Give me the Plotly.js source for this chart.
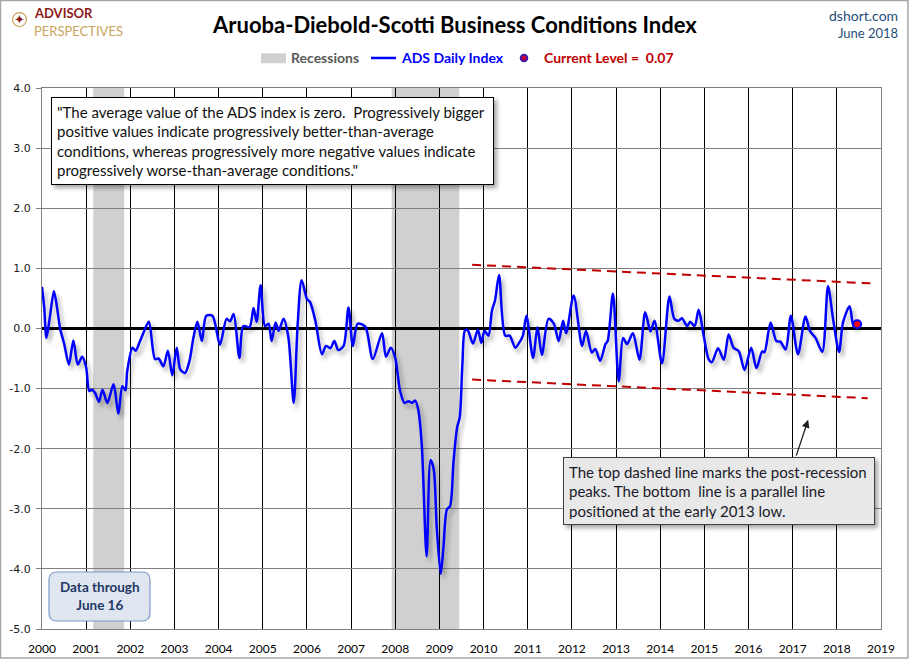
<!DOCTYPE html>
<html>
<head>
<meta charset="utf-8">
<script src="https://cdn.plot.ly/plotly-3.0.1.min.js"></script>
<style>
  body { margin: 0; background: #fff; }
  #myDiv { width: 909px; height: 660px; }
</style>
</head>
<body>
<div id="myDiv"></div>
<script>
// ADS daily index (decimal years)
let years = [
  2000.00, 2000.05, 2000.10, 2000.18, 2000.27, 2000.34, 2000.41, 2000.50, 2000.61, 2000.71,
  2000.81, 2000.91, 2001.00, 2001.07, 2001.13, 2001.20, 2001.29, 2001.37, 2001.48, 2001.62,
  2001.73, 2001.82, 2001.89, 2001.93, 2002.05, 2002.12, 2002.22, 2002.31, 2002.42, 2002.56,
  2002.64, 2002.75, 2002.85, 2002.95, 2003.05, 2003.13, 2003.24, 2003.34, 2003.43, 2003.52,
  2003.62, 2003.72, 2003.86, 2004.03, 2004.18, 2004.26, 2004.34, 2004.47, 2004.56, 2004.70,
  2004.79, 2004.86, 2004.95, 2005.05, 2005.13, 2005.20, 2005.29, 2005.36, 2005.47, 2005.58,
  2005.70, 2005.79, 2005.88, 2006.00, 2006.07, 2006.19, 2006.34, 2006.43, 2006.53, 2006.62,
  2006.71, 2006.83, 2006.94, 2007.04, 2007.15, 2007.32, 2007.49, 2007.70, 2007.79, 2007.90,
  2008.00, 2008.11, 2008.21, 2008.30, 2008.38, 2008.45, 2008.52, 2008.60, 2008.71, 2008.80,
  2008.87, 2008.94, 2009.03, 2009.09, 2009.17, 2009.24, 2009.32, 2009.40, 2009.46, 2009.52,
  2009.58, 2009.64, 2009.76, 2009.87, 2009.95, 2010.02, 2010.11, 2010.19, 2010.26, 2010.35,
  2010.49, 2010.59, 2010.72, 2010.83, 2010.89, 2010.97, 2011.12, 2011.22, 2011.32, 2011.47,
  2011.59, 2011.70, 2011.80, 2011.87, 2012.04, 2012.23, 2012.32, 2012.45, 2012.53, 2012.64,
  2012.76, 2012.81, 2012.93, 2013.06, 2013.16, 2013.25, 2013.38, 2013.53, 2013.66, 2013.78,
  2013.87, 2014.04, 2014.21, 2014.32, 2014.42, 2014.49, 2014.61, 2014.68, 2014.78, 2014.87,
  2014.98, 2015.10, 2015.17, 2015.31, 2015.44, 2015.55, 2015.66, 2015.78, 2015.91, 2016.06,
  2016.18, 2016.31, 2016.36, 2016.50, 2016.63, 2016.72, 2016.84, 2016.96, 2017.12, 2017.29,
  2017.39, 2017.52, 2017.67, 2017.80, 2017.92, 2018.05, 2018.14, 2018.29, 2018.38, 2018.46
];
let adsValues = [
  0.69, 0.35, -0.16, 0.20, 0.62, 0.35, 0.00, -0.25, -0.60, -0.20,
  -0.60, -0.47, -0.65, -1.04, -1.02, -1.07, -1.22, -1.02, -1.24, -0.93,
  -1.42, -0.96, -1.03, -0.71, -0.32, -0.37, -0.21, -0.05, 0.11, -0.51,
  -0.50, -0.63, -0.37, -0.78, -0.32, -0.68, -0.74, -0.54, -0.15, 0.11,
  -0.21, 0.21, 0.21, -0.27, 0.16, 0.12, 0.24, -0.49, 0.04, 0.02,
  0.34, 0.11, 0.72, 0.04, 0.08, -0.21, 0.10, -0.04, 0.16, -0.15,
  -1.24, 0.07, 0.80, 0.49, 0.44, 0.13, -0.43, -0.29, -0.33, -0.21,
  -0.36, -0.29, 0.35, -0.29, 0.08, 0.03, -0.51, -0.08, -0.47, -0.32,
  -0.49, -1.04, -1.24, -1.21, -1.24, -1.20, -1.35, -1.93, -3.79, -2.19,
  -2.34, -3.32, -4.08, -3.65, -3.01, -2.96, -2.21, -1.65, -1.48, -0.60,
  -0.03, -0.03, -0.25, -0.02, -0.24, -0.04, -0.12, 0.30, 0.47, 0.89,
  -0.12, -0.12, -0.32, -0.21, -0.12, 0.21, -0.49, 0.02, -0.44, 0.16,
  0.08, -0.21, 0.13, -0.08, 0.55, -0.29, -0.04, -0.40, -0.34, -0.54,
  -0.26, -0.21, 0.58, -0.88, -0.16, -0.26, -0.08, -0.52, 0.27, -0.05,
  0.13, -0.58, 0.53, 0.16, 0.13, 0.17, 0.04, 0.11, 0.04, 0.31,
  -0.10, -0.52, -0.56, -0.33, -0.52, -0.10, -0.32, -0.38, -0.69, -0.32,
  -0.66, -0.38, -0.40, 0.10, -0.21, -0.22, -0.35, 0.21, -0.43, 0.20,
  -0.04, -0.16, -0.39, 0.70, 0.13, -0.39, 0.10, 0.37, 0.04, 0.07
];

// current level point
let currentX = [2018.46];
let currentY = [0.07];

// post-recession channel (dashed)
let topLineX = [2009.74, 2018.76];
let topLineY = [1.06, 0.75];
let bottomLineX = [2009.74, 2018.70];
let bottomLineY = [-0.85, -1.16];

// recessions
let recessionStarts = [2001.16, 2007.92];
let recessionEnds = [2001.86, 2009.45];

let xTickYears = [2000, 2001, 2002, 2003, 2004, 2005, 2006, 2007, 2008, 2009,
  2010, 2011, 2012, 2013, 2014, 2015, 2016, 2017, 2018, 2019];
let yTicks = [-5, -4, -3, -2, -1, 0, 1, 2, 3, 4];

let calib = 'Lato, "Open Sans", sans-serif';
let darkRed = '#c00000';

let traces = [
  {
    x: years, y: adsValues, mode: 'lines',
    line: { color: '#0000ff', width: 2.5, shape: 'spline', smoothing: 0.8 }
  },
  { x: topLineX, y: topLineY, mode: 'lines', line: { color: darkRed, width: 2, dash: '9px,6px' } },
  { x: bottomLineX, y: bottomLineY, mode: 'lines', line: { color: darkRed, width: 2, dash: '9px,6px' } },
  {
    x: currentX, y: currentY, mode: 'markers',
    marker: { size: 8, color: '#ff0000', line: { color: '#0000ff', width: 2 } }
  }
];

let shapes = [];
for (let i = 0; i < recessionStarts.length; i++) {
  shapes.push({
    type: 'rect', xref: 'x', yref: 'paper', layer: 'below',
    x0: recessionStarts[i], x1: recessionEnds[i], y0: 0, y1: 1,
    fillcolor: '#d0d0d0', line: { width: 0 }
  });
}
// outer frame
shapes.push({
  type: 'rect', xref: 'paper', yref: 'paper',
  x0: -0.0495, x1: 1.0321, y0: -0.0535, y1: 1.1617,
  line: { color: '#a6a6a6', width: 1.5 }
});
// legend swatches
shapes.push({
  type: 'rect', xref: 'paper', yref: 'paper',
  x0: 0.261, x1: 0.2908, y0: 1.0457, y1: 1.0641,
  fillcolor: '#d0d0d0', line: { width: 0 }
});
shapes.push({
  type: 'line', xref: 'paper', yref: 'paper',
  x0: 0.3921, x1: 0.4219, y0: 1.0555, y1: 1.0555,
  line: { color: '#0000ff', width: 2.5 }
});
shapes.push({
  type: 'circle', xref: 'paper', yref: 'paper',
  x0: 0.5745 - 0.0042, x1: 0.5745 + 0.0042, y0: 1.0555 - 0.0065, y1: 1.0555 + 0.0065,
  fillcolor: '#c00040', line: { color: '#2020c0', width: 1.5 }
});
// logo compass ring
shapes.push({
  type: 'circle', xref: 'paper', yref: 'paper',
  x0: -0.0268 - 0.0083, x1: -0.0268 + 0.0083, y0: 1.1266 - 0.0129, y1: 1.1266 + 0.0129,
  line: { color: '#c9a45c', width: 1.2 }
});
// "Data through" rounded box
(function () {
  let x0 = 0.0083, x1 = 0.1287, y0 = 0.0148, y1 = 0.1054, rx = 0.0095, ry = 0.0148;
  shapes.push({
    type: 'path', xref: 'paper', yref: 'paper',
    path: 'M ' + (x0 + rx) + ',' + y1 + ' L ' + (x1 - rx) + ',' + y1 +
      ' Q ' + x1 + ',' + y1 + ' ' + x1 + ',' + (y1 - ry) +
      ' L ' + x1 + ',' + (y0 + ry) + ' Q ' + x1 + ',' + y0 + ' ' + (x1 - rx) + ',' + y0 +
      ' L ' + (x0 + rx) + ',' + y0 + ' Q ' + x0 + ',' + y0 + ' ' + x0 + ',' + (y0 + ry) +
      ' L ' + x0 + ',' + (y1 - ry) + ' Q ' + x0 + ',' + y1 + ' ' + (x0 + rx) + ',' + y1 + ' Z',
    fillcolor: '#dfe6f0', line: { color: '#7f9cc8', width: 1.2 }
  });
})();

let annotations = [
  {
    xref: 'paper', yref: 'paper', x: 0.0107, y: 0.9839, xanchor: 'left', yanchor: 'top',
    text: '"The average value of the ADS index is zero.  Progressively bigger<br>' +
      'positive values indicate progressively better-than-average<br>' +
      'conditions, whereas progressively more negative values indicate<br>' +
      'progressively worse-than-average conditions."',
    align: 'left', showarrow: false, width: 431, height: 76, borderpad: 5,
    bgcolor: '#ffffff', bordercolor: '#000000', borderwidth: 1,
    font: { family: calib, size: 15, color: '#111111' }
  },
  {
    xref: 'paper', yref: 'paper', x: 0.6206, y: 0.3185, xanchor: 'left', yanchor: 'top',
    text: 'The top dashed line marks the post-recession<br>' +
      'peaks. The bottom  line is a parallel line<br>' +
      'positioned at the early 2013 low.',
    align: 'left', showarrow: false, width: 300, height: 56, borderpad: 5,
    bgcolor: '#e8e8e8', bordercolor: '#404040', borderwidth: 1,
    font: { family: calib, size: 15, color: '#1a1a2a' }
  },
  {
    // arrow from the note box up toward the channel
    xref: 'x', yref: 'y', axref: 'x', ayref: 'y',
    x: 2017.35, y: -1.52, ax: 2017.07, ay: -2.14, text: '',
    showarrow: true, arrowhead: 2, arrowsize: 1.2, arrowwidth: 1.3, arrowcolor: '#202020'
  },
  {
    xref: 'paper', yref: 'paper', x: 0.0691, y: 0.061, xanchor: 'center', yanchor: 'middle',
    text: '<b>Data through<br>June 16</b>', showarrow: false, align: 'center',
    font: { family: calib, size: 13.5, color: '#1f3864' }
  },
  // legend text
  {
    xref: 'paper', yref: 'paper', x: 0.2944, y: 1.0555, xanchor: 'left', yanchor: 'middle',
    text: '<b>Recessions</b>', showarrow: false,
    font: { family: calib, size: 14, color: '#595959' }
  },
  {
    xref: 'paper', yref: 'paper', x: 0.4255, y: 1.0555, xanchor: 'left', yanchor: 'middle',
    text: '<b>ADS Daily Index</b>', showarrow: false,
    font: { family: calib, size: 14, color: '#0000ff' }
  },
  {
    xref: 'paper', yref: 'paper', x: 0.596, y: 1.0555, xanchor: 'left', yanchor: 'middle',
    text: '<b>Current Level =  ' + currentY[0].toFixed(2) + '</b>', showarrow: false,
    font: { family: calib, size: 14, color: darkRed }
  },
  // header right
  {
    xref: 'paper', yref: 'paper', x: 1.0226, y: 1.1331, xanchor: 'right', yanchor: 'middle',
    text: 'dshort.com', showarrow: false,
    font: { family: calib, size: 14, color: '#1f4e79' }
  },
  {
    xref: 'paper', yref: 'paper', x: 1.0226, y: 1.1017, xanchor: 'right', yanchor: 'middle',
    text: 'June 2018', showarrow: false,
    font: { family: calib, size: 13, color: '#1f4e79' }
  },
  // logo
  {
    xref: 'paper', yref: 'paper', x: -0.0107, y: 1.1211, xanchor: 'left', yanchor: 'bottom',
    text: '<b>ADVISOR</b>', showarrow: false, borderpad: 0,
    font: { family: calib, size: 13, color: '#8b1a1a' }
  },
  {
    xref: 'paper', yref: 'paper', x: -0.0107, y: 1.1211, xanchor: 'left', yanchor: 'top',
    text: 'PERSPECTIVES', showarrow: false, borderpad: 0,
    font: { family: calib, size: 13, color: '#c9a45c' }
  },
  {
    xref: 'paper', yref: 'paper', x: -0.0268, y: 1.1266, xanchor: 'center', yanchor: 'middle',
    text: '\u2726', showarrow: false,
    font: { family: 'DejaVu Sans', size: 13, color: '#8b1a1a' }
  }
];

let layout = {
  width: 909, height: 660,
  margin: { l: 42, r: 28, t: 88, b: 31 },
  paper_bgcolor: '#ffffff', plot_bgcolor: '#ffffff',
  showlegend: false, hovermode: false,
  title: {
    text: '<b>Aruoba-Diebold-Scotti Business Conditions Index</b>',
    x: 0.5005, y: 0.962, xanchor: 'center', yanchor: 'middle',
    font: { family: calib, size: 22, color: '#000000' }
  },
  xaxis: {
    range: [2000, 2019], tickvals: xTickYears, ticktext: xTickYears.map(String),
    showgrid: true, gridcolor: '#000000', gridwidth: 1,
    showline: true, linecolor: '#808080', linewidth: 1, mirror: true,
    zeroline: false, ticks: '', ticklabelstandoff: 9,
    tickfont: { family: calib, size: 12, color: '#000000' }
  },
  yaxis: {
    range: [-5, 4], tickvals: yTicks, ticktext: yTicks.map(function (v) { return v.toFixed(1); }),
    showgrid: true, gridcolor: '#808080', gridwidth: 1,
    zeroline: true, zerolinecolor: '#000000', zerolinewidth: 2.5,
    showline: true, linecolor: '#808080', linewidth: 1, mirror: true,
    ticks: 'outside', ticklen: 5, tickcolor: '#808080', ticklabelstandoff: 3,
    tickfont: { family: 'DejaVu Sans, Verdana, sans-serif', size: 11, color: '#1a1a1a' }
  },
  shapes: shapes,
  annotations: annotations
};

Plotly.newPlot('myDiv', traces, layout, { staticPlot: true, displayModeBar: false }).then(function () {
  // soft shadow under the index line and the note boxes
  let line = document.querySelector('.scatterlayer .trace path.js-line');
  if (line) line.style.filter = 'drop-shadow(3px 4px 2px rgba(0,0,0,0.3))';
  [0, 1].forEach(function (i) {
    let bg = document.querySelector('g.annotation[data-index="' + i + '"] rect.bg');
    if (bg) bg.style.filter = 'drop-shadow(3px 3px 2px rgba(0,0,0,0.35))';
  });
});
</script>
</body>
</html>
